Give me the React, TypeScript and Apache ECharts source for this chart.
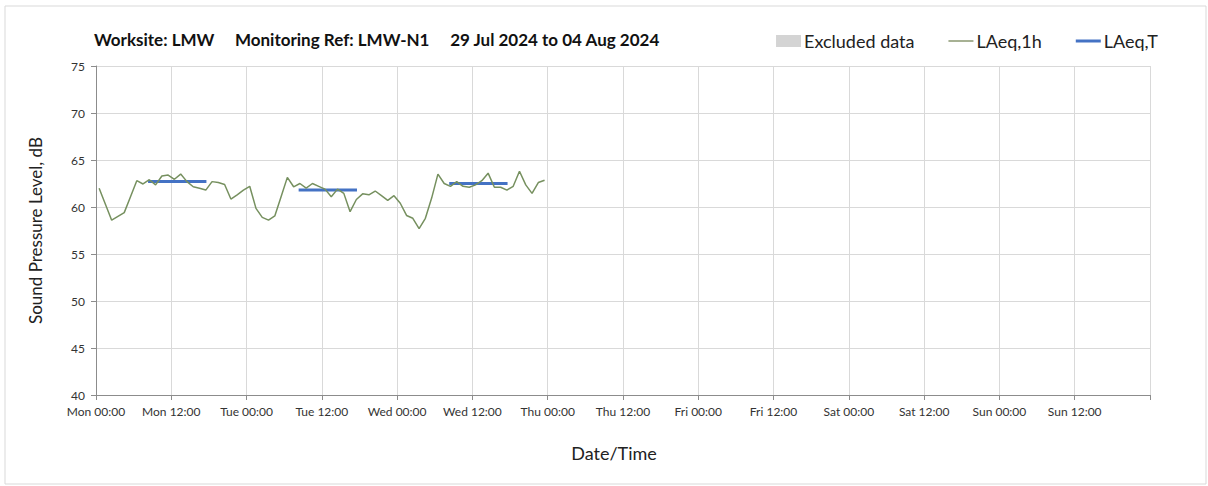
import React, { useEffect, useRef } from "react";
import * as echarts from "echarts";

const TITLE = "Worksite: LMW     Monitoring Ref: LMW-N1     29 Jul 2024 to 04 Aug 2024";

const xTickLabels = [
  "Mon 00:00", "Mon 12:00", "Tue 00:00", "Tue 12:00", "Wed 00:00", "Wed 12:00",
  "Thu 00:00", "Thu 12:00", "Fri 00:00", "Fri 12:00", "Sat 00:00", "Sat 12:00",
  "Sun 00:00", "Sun 12:00",
];

// hourly LAeq,1h values from Mon 00:00 to Wed 23:00 (plotted at mid-hour)
const laeq1h = [
  62.0, 60.3, 58.6, 59.0, 59.4, 61.1, 62.8, 62.45, 62.9, 62.35, 63.3, 63.4,
  62.95, 63.5, 62.7, 62.15, 62.0, 61.8, 62.7, 62.6, 62.4, 60.85, 61.3, 61.8,
  62.2, 59.85, 58.9, 58.6, 59.05, 61.1, 63.15, 62.15, 62.5, 62.0, 62.5, 62.2,
  61.9, 61.1, 61.9, 61.45, 59.5, 60.8, 61.4, 61.3, 61.7, 61.2, 60.7, 61.2,
  60.4, 59.1, 58.8, 57.7, 58.8, 60.95, 63.5, 62.5, 62.2, 62.7, 62.2, 62.1,
  62.35, 62.8, 63.6, 62.1, 62.1, 61.8, 62.2, 63.8, 62.35, 61.45, 62.6, 62.85,
];

// LAeq,T daytime periods (hours from Mon 00:00)
const periodStart = [8.3, 32.3, 56.3];
const periodEnd = [17.6, 41.6, 65.6];
const periodLevel = [62.7, 61.8, 62.5];

const FONT = "Lato, 'Open Sans', sans-serif";

export default function App() {
  const ref = useRef<HTMLDivElement>(null);
  useEffect(() => {
    if (!ref.current) return;
    const chart = echarts.init(ref.current, null, { renderer: "svg" });
    const lineData = laeq1h.map((v, i) => [i + 0.5, v]);
    const periodSeries = periodStart.map((s, k) => ({
      name: "LAeq,T",
      type: "line",
      data: [
        [s, periodLevel[k]],
        [periodEnd[k], periodLevel[k]],
      ],
      showSymbol: false,
      symbol: "none",
      lineStyle: { color: "#4472c4", width: 3 },
      itemStyle: { color: "#4472c4" },
      z: 2,
    }));
    chart.setOption({
      animation: false,
      backgroundColor: "#ffffff",
      textStyle: { fontFamily: FONT },
      title: {
        text: TITLE,
        left: 89,
        top: 26,
        textStyle: { fontFamily: FONT, fontSize: 17, fontWeight: "bold", color: "#111" },
      },
      legend: {
        right: 50,
        top: 32,
        padding: 0,
        itemGap: 34,
        itemWidth: 25,
        itemHeight: 12,
        textStyle: { fontFamily: FONT, fontSize: 18, color: "#222", padding: [0, 0, 0, -2] },
        data: [
          { name: "Excluded data", icon: "rect", itemStyle: { color: "#d4d4d4" } },
          { name: "LAeq,1h", icon: "path://M0,5 L25,5 L25,6 L0,6 Z", itemStyle: { color: "#4f6228" } },
          { name: "LAeq,T", icon: "path://M0,4 L25,4 L25,7 L0,7 Z", itemStyle: { color: "#4472c4" } },
        ],
      },
      grid: { left: 96, right: 58, top: 66, bottom: 91, containLabel: false },
      xAxis: {
        type: "value",
        min: 0,
        max: 168,
        interval: 12,
        name: "Date/Time",
        nameLocation: "middle",
        nameGap: 49,
        nameTextStyle: { fontFamily: FONT, fontSize: 18, color: "#222", padding: [0, 18, 0, 0] },
        axisLine: { show: true, lineStyle: { color: "#8c8c8c" } },
        axisTick: { show: true, length: 5, lineStyle: { color: "#8c8c8c" } },
        splitLine: { show: true, lineStyle: { color: "#d9d9d9" } },
        axisLabel: {
          fontFamily: FONT,
          fontSize: 12,
          color: "#333",
          margin: 10,
          formatter: (v: number) => xTickLabels[Math.round(v / 12)] ?? "",
        },
      },
      yAxis: {
        type: "value",
        min: 40,
        max: 75,
        interval: 5,
        name: "Sound Pressure Level, dB",
        nameLocation: "middle",
        nameGap: 52,
        nameTextStyle: { fontFamily: FONT, fontSize: 17, color: "#222" },
        axisLine: { show: true, lineStyle: { color: "#8c8c8c" } },
        axisTick: { show: true, length: 5, lineStyle: { color: "#8c8c8c" } },
        splitLine: { show: true, lineStyle: { color: "#d9d9d9" } },
        axisLabel: { fontFamily: FONT, fontSize: 12, color: "#333", margin: 11 },
      },
      graphic: [
        {
          type: "rect",
          shape: { x: 5, y: 6, width: 1201, height: 478 },
          style: { fill: "none", stroke: "#d9d9d9", lineWidth: 1 },
          silent: true,
          z: -10,
        },
      ],
      series: [
        {
          name: "Excluded data",
          type: "bar",
          data: [],
          itemStyle: { color: "#d4d4d4" },
        },
        ...periodSeries,
        {
          name: "LAeq,1h",
          type: "line",
          data: lineData,
          showSymbol: false,
          symbol: "none",
          lineStyle: { color: "#76905f", width: 1.5 },
          itemStyle: { color: "#76905f" },
          z: 3,
        },
      ],
    });
    return () => chart.dispose();
  }, []);
  return (
    <div
      ref={ref}
      style={{ position: "fixed", left: 0, top: 0, width: 1208, height: 486 }}
    />
  );
}
